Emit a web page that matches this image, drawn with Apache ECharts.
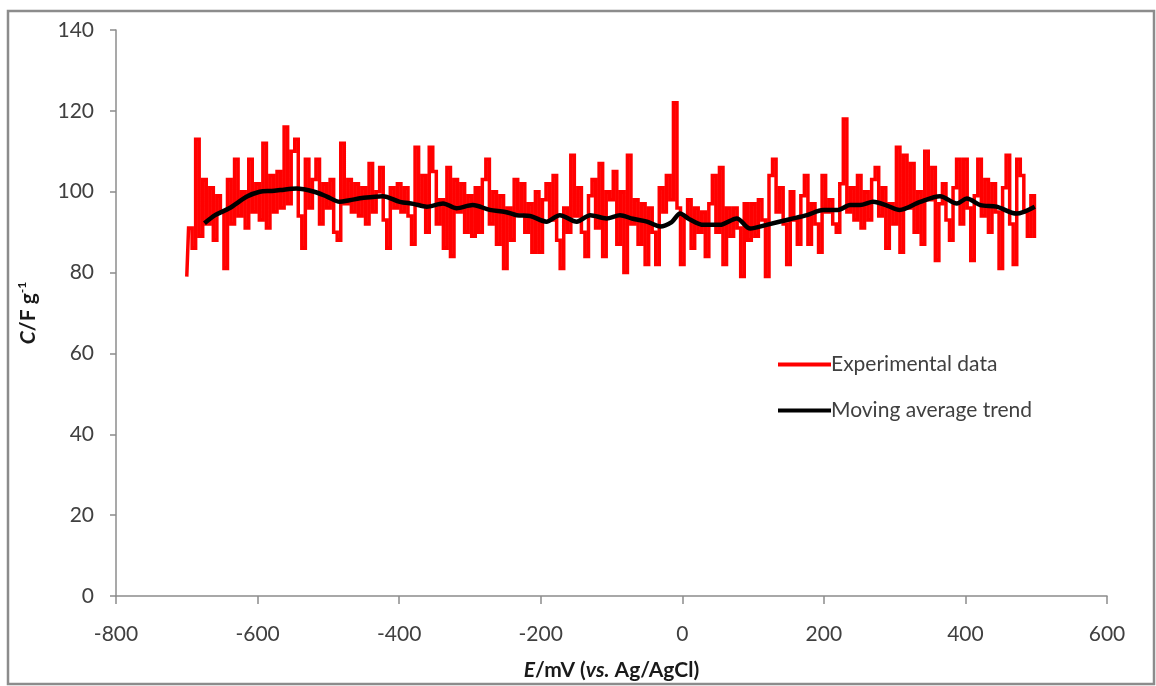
<!DOCTYPE html>
<html>
<head>
<meta charset="utf-8">
<script src="https://cdn.jsdelivr.net/npm/echarts@6/dist/echarts.min.js"></script>
<style>
  html, body { margin: 0; padding: 0; background: #ffffff; }
  #chart { width: 1156px; height: 686px; }
</style>
</head>
<body>
<div id="chart"></div>
<script>
// Potential sweep of the measured capacitance: -700 mV to +500 mV, 5 mV per sample
const E_START = -700;
const E_STEP = 5;

// Specific capacitance C (F g-1), one row per 50 mV
const capacitance = [
  79, 91, 86, 113, 89, 103, 92, 101, 88, 99,        // -700 .. -655
  95, 81, 103, 92, 108, 94, 100, 91, 108, 95,       // -650 .. -605
  102, 93, 112, 91, 104, 95, 105, 96, 116, 97,      // -600 .. -555
  110, 113, 94, 86, 108, 96, 103, 108, 92, 102,     // -550 .. -505
  96, 103, 90, 88, 112, 97, 103, 95, 102, 94,       // -500 .. -455
  101, 92, 107, 95, 100, 106, 93, 86, 101, 96,      // -450 .. -405
  102, 95, 101, 94, 87, 111, 97, 104, 90, 111,      // -400 .. -355
  105, 92, 98, 86, 106, 84, 103, 95, 102, 90,       // -350 .. -305
  99, 89, 101, 90, 103, 108, 92, 100, 87, 99,       // -300 .. -255
  81, 96, 88, 103, 95, 102, 90, 97, 85, 100,        // -250 .. -205
  85, 98, 102, 93, 104, 88, 81, 96, 90, 109,        // -200 .. -155
  94, 101, 90, 84, 99, 103, 91, 107, 84, 100,       // -150 .. -105
  98, 105, 87, 100, 80, 109, 92, 98, 87, 97,        // -100 .. -55
  82, 96, 90, 82, 101, 95, 104, 98, 122, 96,        //  -50 .. -5
  82, 94, 98, 86, 96, 90, 95, 84, 97, 104,          //    0 .. 45
  90, 106, 82, 96, 89, 96, 91, 79, 97, 88,          //   50 .. 95
  97, 89, 98, 93, 79, 104, 108, 95, 101, 92,        //  100 .. 145
  82, 100, 93, 87, 99, 104, 87, 97, 92, 85,         //  150 .. 195
  104, 95, 98, 92, 90, 102, 118, 95, 101, 93,       //  200 .. 245
  104, 91, 100, 93, 103, 106, 94, 101, 86, 97,      //  250 .. 295
  92, 111, 85, 109, 96, 107, 90, 100, 87, 110,      //  300 .. 345
  98, 106, 83, 97, 102, 93, 88, 101, 108, 92,       //  350 .. 395
  108, 96, 83, 99, 108, 94, 103, 90, 102, 95,       //  400 .. 445
  81, 101, 109, 92, 82, 108, 104, 95, 89, 99, 89    //  450 .. 500
];

// Moving average trend: potentials (mV) and smoothed capacitance (F g-1)
const trendE = [
  -675, -660, -640, -615, -597, -580, -568, -545, -520, -502,
  -484, -470, -450, -423, -399, -380, -361, -338, -319, -296,
  -272, -250, -234, -215, -192, -173, -149, -130, -107, -88,
  -70, -50, -31, -15, -3, 10, 30, 53, 77, 96,
  119, 152, 176, 199, 220, 237, 251, 270, 290, 307,
  336, 364, 388, 402, 421, 444, 472, 498
];
const trendC = [
  92.2, 94.2, 95.9, 98.8, 100.0, 100.2, 100.4, 100.8, 100.0, 98.8,
  97.5, 97.9, 98.5, 98.9, 97.5, 97.0, 96.3, 97.1, 95.9, 96.7,
  95.5, 95.0, 94.2, 94.0, 92.6, 94.2, 92.6, 94.2, 93.4, 94.2,
  93.3, 92.6, 91.4, 92.5, 94.6, 93.2, 91.8, 91.8, 93.4, 90.9,
  91.8, 93.2, 94.2, 95.5, 95.5, 96.7, 96.7, 97.5, 96.5, 95.5,
  97.5, 98.9, 97.1, 98.3, 96.7, 96.3, 94.6, 96.3
];

// Axis ranges and tick spacing
const xRange = { min: -800, max: 600, step: 200 };
const yRange = { min: 0, max: 140, step: 20 };

const FONT = 'Lato, "Open Sans", sans-serif';
const AXIS_GREY = '#8c8c8c';
const LABEL_GREY = '#404040';

const experimental = capacitance.map((c, i) => [E_START + i * E_STEP, c]);
const trend = trendE.map((e, i) => [e, trendC[i]]);

const chart = echarts.init(document.getElementById('chart'), null, { renderer: 'canvas' });

chart.setOption({
  backgroundColor: '#ffffff',
  animation: false,
  graphic: [{
    type: 'rect',
    shape: { x: 8, y: 11, width: 1146, height: 673 },
    style: { fill: 'none', stroke: '#8c8c8c', lineWidth: 2.5 },
    z: -1
  }],
  grid: { left: 116, right: 49, top: 30, bottom: 90, containLabel: false },
  legend: {
    orient: 'vertical',
    left: 773,
    top: 349,
    itemWidth: 53,
    itemHeight: 4,
    itemGap: 25,
    icon: 'rect',
    textStyle: { fontFamily: FONT, fontSize: 21, color: LABEL_GREY, padding: [0, 0, 0, -5] },
    data: ['Experimental data', 'Moving average trend']
  },
  xAxis: {
    type: 'value',
    min: xRange.min,
    max: xRange.max,
    interval: xRange.step,
    splitLine: { show: false },
    axisLine: { onZero: false, lineStyle: { color: AXIS_GREY, width: 1.5 } },
    axisTick: { show: true, length: 8, lineStyle: { color: AXIS_GREY, width: 1.5 } },
    axisLabel: { margin: 28, fontFamily: FONT, fontSize: 21, color: LABEL_GREY },
    name: '{i|E}/mV ({i|vs.} Ag/AgCl)',
    nameLocation: 'middle',
    nameGap: 64,
    nameTextStyle: {
      fontFamily: FONT, fontSize: 21, fontWeight: 'bold', color: '#1a1a1a',
      rich: {
        i: { fontFamily: FONT, fontSize: 21, fontWeight: 'bold', fontStyle: 'italic', color: '#1a1a1a' }
      }
    }
  },
  yAxis: {
    type: 'value',
    min: yRange.min,
    max: yRange.max,
    interval: yRange.step,
    splitLine: { show: false },
    axisLine: { show: true, onZero: false, lineStyle: { color: AXIS_GREY, width: 1.5 } },
    axisTick: { show: true, length: 6, lineStyle: { color: AXIS_GREY, width: 1.5 } },
    axisLabel: { margin: 22, fontFamily: FONT, fontSize: 21, color: LABEL_GREY },
    name: '{i|C}/F g{s|-1}',
    nameLocation: 'middle',
    nameRotate: 90,
    nameGap: 76,
    nameTextStyle: {
      fontFamily: FONT, fontSize: 21, fontWeight: 'bold', color: '#1a1a1a',
      rich: {
        i: { fontFamily: FONT, fontSize: 21, fontWeight: 'bold', fontStyle: 'italic', color: '#1a1a1a', lineHeight: 24 },
        s: { fontFamily: FONT, fontSize: 12, fontWeight: 'bold', color: '#1a1a1a', verticalAlign: 'top', lineHeight: 24 }
      }
    }
  },
  series: [
    {
      name: 'Experimental data',
      type: 'line',
      data: experimental,
      step: 'middle',
      symbol: 'none',
      lineStyle: { color: '#ff0000', width: 3.5, join: 'miter' },
      itemStyle: { color: '#ff0000' },
      z: 2
    },
    {
      name: 'Moving average trend',
      type: 'line',
      data: trend,
      symbol: 'none',
      smooth: 0.3,
      lineStyle: { color: '#000000', width: 4.5 },
      itemStyle: { color: '#000000' },
      z: 3
    }
  ]
});
</script>
</body>
</html>
